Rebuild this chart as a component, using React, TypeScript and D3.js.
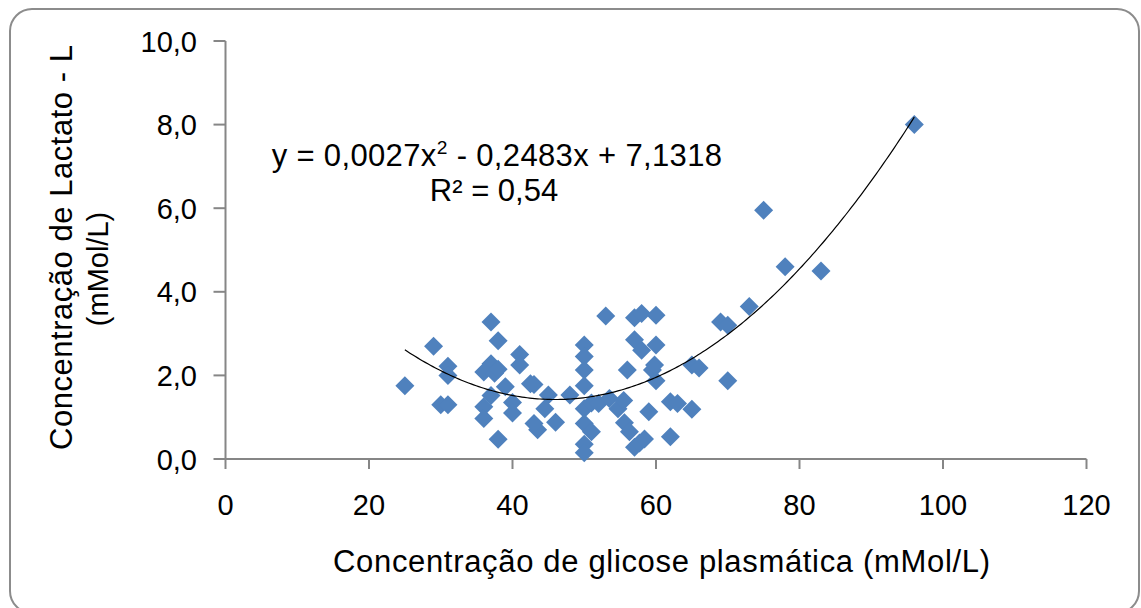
import React from "react";
import * as d3 from "d3";

const glucose: number[] = [
  25, 29, 31, 31, 30, 31, 37, 38, 37, 36, 37.5, 38, 41, 41, 39, 37, 36, 36, 40, 40, 38,
  42.5, 43, 45, 48, 44.5, 46, 43.5, 43, 50, 50, 50, 50, 50, 51, 52, 53, 53.5, 50, 51,
  50, 50, 54.7, 55.5, 55.6, 56.3, 56, 57, 58, 60, 57, 58, 60, 59.5, 59.8, 60, 59, 57,
  57.7, 58.4, 62, 62, 63, 65, 65, 66, 69, 70, 70, 73, 75, 78, 83, 96,
];
const lactate: number[] = [
  1.75, 2.7, 2.22, 2.0, 1.3, 1.3, 3.28, 2.83, 2.28, 2.08, 2.05, 2.15, 2.5, 2.25, 1.73,
  1.52, 1.25, 0.97, 1.35, 1.1, 0.47, 1.8, 1.78, 1.53, 1.53, 1.2, 0.88, 0.7, 0.85, 2.73,
  2.45, 2.13, 1.75, 1.2, 1.34, 1.33, 3.42, 1.45, 0.85, 0.65, 0.35, 0.15, 1.2, 1.4, 0.87,
  0.65, 2.13, 3.38, 3.48, 3.44, 2.85, 2.6, 2.73, 2.13, 2.25, 1.87, 1.13, 0.28, 0.38, 0.48,
  0.53, 1.37, 1.33, 1.19, 2.25, 2.18, 3.28, 3.2, 1.87, 3.65, 5.95, 4.6, 4.5, 8.0,
];
const xTicks: number[] = [0, 20, 40, 60, 80, 100, 120];
const yTicks: number[] = [0, 2, 4, 6, 8, 10];
const trendCoef: number[] = [0.0027, -0.2483, 7.1318];
const xTitle = "Concentração de glicose plasmática (mMol/L)";
const yTitle1 = "Concentração de Lactato - L";
const yTitle2 = "(mMol/L)";
const eqLine1 = "y = 0,0027x";
const eqLine1b = " - 0,2483x + 7,1318";
const eqLine2 = "R² = 0,54";

const W = 1141;
const H = 608;
const FONT = "'Liberation Sans', Arial, sans-serif";
const FS = 29;
const FT = 31;

export default function App() {
  const x = d3.scaleLinear().domain([0, 120]).range([225.5, 1086.5]);
  const y = d3.scaleLinear().domain([0, 10]).range([459, 41]);
  const fmtY = (v: number) => d3.format(".1f")(v).replace(".", ",");

  const xMin = d3.min(glucose) as number;
  const xMax = d3.max(glucose) as number;
  const samples = d3.range(0, 201).map((i) => xMin + ((xMax - xMin) * i) / 200);
  const trend = d3
    .line<number>()
    .x((v) => x(v))
    .y((v) => y(trendCoef[0] * v * v + trendCoef[1] * v + trendCoef[2]))(samples) as string;

  const h = 9.5;
  const diamond = `M0,${-h}L${h},0L0,${h}L${-h},0Z`;
  const axisColor = "#868686";

  return (
    <svg
      width={W}
      height={H}
      style={{ position: "absolute", left: 0, top: 0, display: "block", background: "#fff" }}
      fontFamily={FONT}
    >
      <rect x={0} y={0} width={W} height={H} fill="#fff" />
      <rect x={10} y={9} width={1129} height={604} rx={22} ry={22} fill="#fff" stroke="#8c8c8c" strokeWidth={2} />

      {/* axes */}
      <line x1={x(0)} x2={x(0)} y1={y(10)} y2={y(0)} stroke={axisColor} strokeWidth={2} />
      <line x1={x(0)} x2={x(120)} y1={y(0)} y2={y(0)} stroke={axisColor} strokeWidth={2} />
      {yTicks.map((t) => (
        <g key={"y" + t}>
          <line x1={x(0) - 12} x2={x(0)} y1={y(t)} y2={y(t)} stroke={axisColor} strokeWidth={2} />
          <text x={197} y={y(t) + 10.5} textAnchor="end" fontSize={FS} fill="#000">
            {fmtY(t)}
          </text>
        </g>
      ))}
      {xTicks.map((t) => (
        <g key={"x" + t}>
          <line x1={x(t)} x2={x(t)} y1={y(0)} y2={y(0) + 10} stroke={axisColor} strokeWidth={2} />
          <text x={x(t)} y={515} textAnchor="middle" fontSize={FS} fill="#000">
            {t}
          </text>
        </g>
      ))}

      {/* points */}
      {glucose.map((g, i) => (
        <path key={"p" + i} d={diamond} transform={`translate(${x(g)},${y(lactate[i])})`} fill="#4F81BD" />
      ))}

      {/* trendline */}
      <path d={trend} fill="none" stroke="#000" strokeWidth={1.2} />

      {/* equation */}
      <text x={497} y={166} textAnchor="middle" fontSize={FT} fill="#000" letterSpacing={0.35}>
        {eqLine1}
        <tspan fontSize={FT * 0.62} dy={-12}>2</tspan>
        <tspan dy={12}>{eqLine1b}</tspan>
      </text>
      <text x={494} y={201} textAnchor="middle" fontSize={FT} fill="#000">
        {eqLine2}
      </text>

      {/* titles */}
      <text x={333} y={572} fontSize={FT} fill="#000" textLength={657} lengthAdjust="spacing">
        {xTitle}
      </text>
      <text transform="translate(72,450) rotate(-90)" fontSize={FT} fill="#000" textLength={405} lengthAdjust="spacing">
        {yTitle1}
      </text>
      <text transform="translate(108,269) rotate(-90)" textAnchor="middle" fontSize={FS} fill="#000">
        {yTitle2}
      </text>
    </svg>
  );
}
